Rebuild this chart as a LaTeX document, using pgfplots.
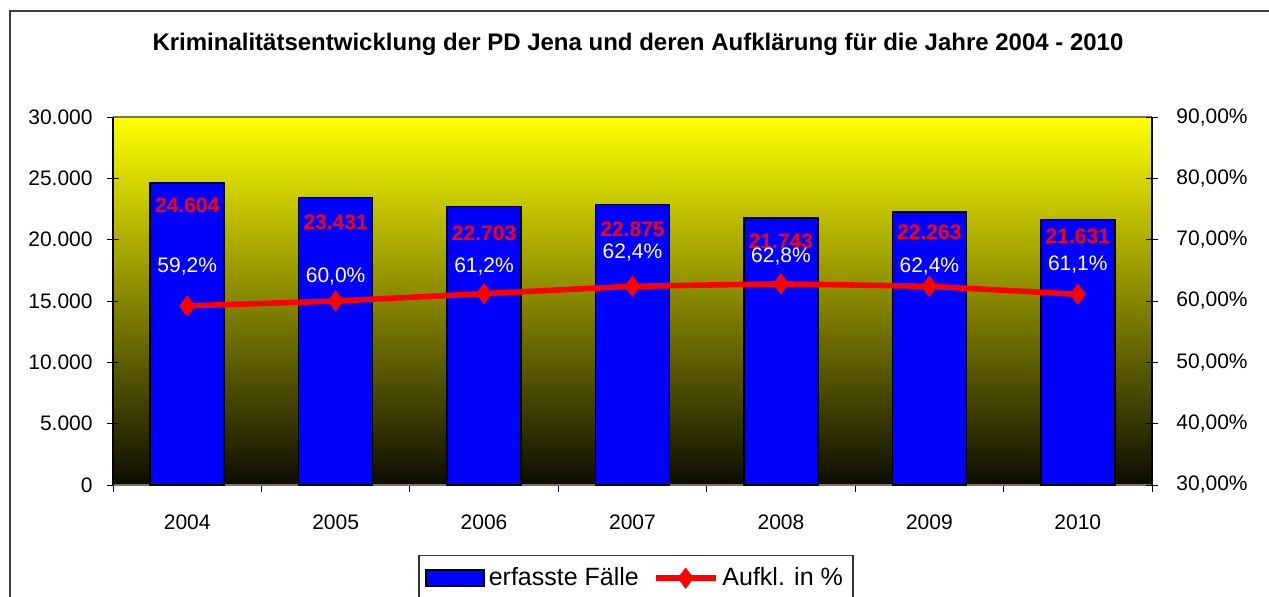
\documentclass[border=0pt]{standalone}
\usepackage{fontspec}
\setmainfont{Liberation Sans}
\usepackage{pgfplots}
\usepackage{pgfplotstable}
\pgfplotsset{compat=1.18}

\definecolor{barblue}{RGB}{0,0,255}
\definecolor{linered}{RGB}{255,0,0}
\definecolor{bgtop}{RGB}{255,255,0}
\definecolor{bgmid}{RGB}{190,184,0}
\definecolor{bgbot}{RGB}{12,12,0}

% erfasste Faelle, label text, label offset from bar top (pt)
\pgfplotstableread{
x cases label dy
0 24604 24.604 -11.2
1 23431 23.431 -12.5
2 22703 22.703 -13.2
3 22875 22.875 -12.5
4 21743 21.743 -11.5
5 22263 22.263 -10.2
6 21631 21.631 -8.5
}\casesdata

% Aufklaerungsquote in %, label text, label offset above point (pt)
\pgfplotstableread{
x rate label dy
0 59.2 59,2 19.7
1 60.0 60,0 12.2
2 61.2 61,2 13.8
3 62.4 62,4 17.1
4 62.8 62,8 13.9
5 62.4 62,4 10.1
6 61.1 61,1 15.1
}\ratedata

\pgfplotsset{
  common/.style={
    at={(56.5pt,55.5pt)}, anchor=south west,
    scale only axis, width=519.5pt, height=184pt,
    xmin=-0.5, xmax=6.5,
    tick align=center, major tick length=6pt,
    tick style={black, line width=0.5pt},
    ticklabel style={font=\fontsize{10.5}{12}\selectfont},
  },
  barlegend/.style={legend image code/.code={\draw[##1] (0pt,-4pt) rectangle (29pt,4pt);}},
  linelegend/.style={legend image code/.code={\draw[##1, mark repeat=2, mark phase=2]
    plot coordinates {(0pt,0pt) (15pt,0pt) (30pt,0pt)};}},
}

\begin{document}
\begin{tikzpicture}
\useasboundingbox (0,0) rectangle (634.5pt,298pt);
\draw[black!75, line width=0.8pt] (5pt,-2pt) -- (5pt,292.5pt) -- (640pt,292.5pt);
\node[font=\fontsize{12}{14}\selectfont\bfseries] at (319pt,276pt)
  {Kriminalitätsentwicklung der PD Jena und deren Aufklärung für die Jahre 2004 - 2010};

\begin{axis}[
  common,
  ymin=0, ymax=30000,
  scaled y ticks=false,
  separate axis lines,
  every outer x axis line/.append style={black!55, line width=1pt},
  every outer y axis line/.append style={black, line width=0.7pt},
  axis background/.style={shade, top color=bgtop, middle color=bgmid, bottom color=bgbot},
  xtick pos=bottom, ytick pos=left,
  xtick={0,...,6},
  xticklabels={2004,2005,2006,2007,2008,2009,2010},
  major x tick style={draw=none},
  minor xtick={-0.5,0.5,...,6.5},
  minor x tick style={black, line width=0.5pt},
  minor tick length=6.5pt,
  xticklabel style={inner sep=0pt, anchor=north, yshift=-11.5pt},
  ytick={0,5000,...,30000},
  yticklabels={0,5.000,10.000,15.000,20.000,25.000,30.000},
  yticklabel style={inner sep=0pt, anchor=east, xshift=-7pt},
  legend columns=2,
  legend style={at={(0.5034,-0.19)}, anchor=north, draw=black!80, line width=0.7pt,
    font=\fontsize{12.5}{15}\selectfont, inner xsep=3pt, inner ysep=4pt,
    /tikz/every even column/.append style={column sep=5pt}},
]
\addplot[ybar, bar width=37pt, fill=barblue, draw=black, line width=0.8pt,
  barlegend,
  point meta=explicit symbolic,
  nodes near coords,
  visualization depends on={\thisrow{dy}\as\labeldy},
  every node near coord/.append style={anchor=center, inner sep=0pt, text=linered,
    font=\fontsize{10.5}{12}\selectfont\bfseries, yshift=\labeldy pt},
] table[x=x, y=cases, meta=label] {\casesdata};
\addlegendentry{erfasste Fälle}
\addlegendimage{linered, line width=2.8pt, mark=diamond*, mark size=5pt,
  mark options={solid, line width=0.4pt}, linelegend}
\addlegendentry{Aufkl. in \%}
\end{axis}

\begin{axis}[
  common,
  ymin=30, ymax=90,
  axis x line=none,
  axis y line*=right,
  axis line style={black, line width=0.7pt},
  ytick={30,40,...,90},
  yticklabels={{30,00\%},{40,00\%},{50,00\%},{60,00\%},{70,00\%},{80,00\%},{90,00\%}},
  yticklabel style={inner sep=0pt, anchor=west, xshift=9pt},
]
\addplot[linered, line width=2.8pt, mark=diamond*, mark size=5pt,
  mark options={solid, line width=0.4pt},
  point meta=explicit symbolic,
  nodes near coords={\pgfplotspointmeta\%},
  visualization depends on={\thisrow{dy}\as\labeldy},
  every node near coord/.append style={anchor=center, inner sep=0pt, text=white,
    font=\fontsize{10.5}{12}\selectfont, yshift=\labeldy pt},
] table[x=x, y=rate, meta=label] {\ratedata};
\end{axis}
\end{tikzpicture}
\end{document}
